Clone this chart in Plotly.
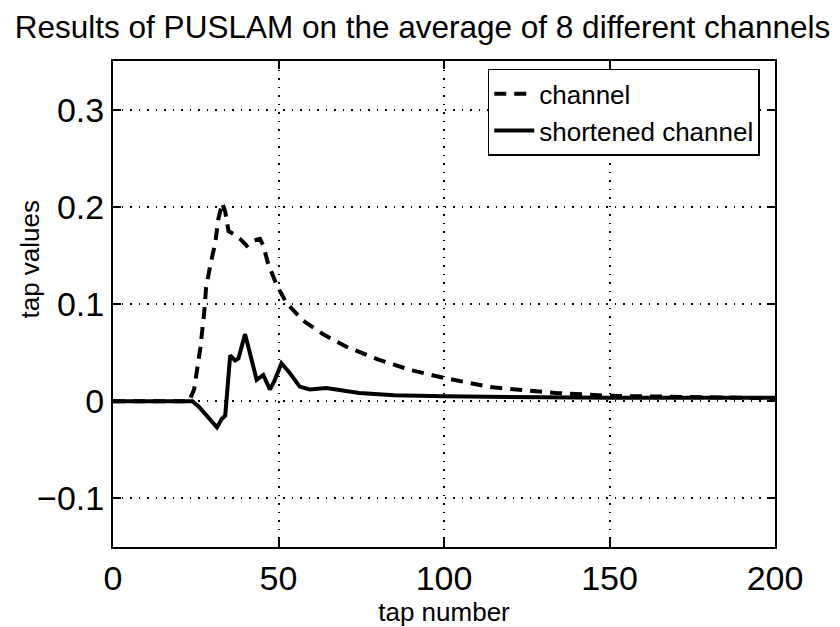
import plotly.graph_objects as go

# channel (dashed)
channel_x = [0, 23, 24.5, 26.4, 27.6, 28.1, 29.4, 30.9, 31.8, 33, 33.9, 34.9, 36.5, 38.4, 40.4,
             42, 44.4, 45.4, 46.9, 49.4, 52.4, 57.4, 63.4, 70.5, 80, 90, 100, 114, 125, 134,
             150, 175, 200]
channel_y = [0, 0, 0.012, 0.055, 0.093, 0.116, 0.14, 0.163, 0.187, 0.204, 0.195, 0.175, 0.172,
             0.167, 0.16, 0.165, 0.167, 0.16, 0.141, 0.12, 0.101, 0.083, 0.069, 0.056, 0.043,
             0.032, 0.024, 0.0145, 0.011, 0.0085, 0.0055, 0.0038, 0.003]

# shortened channel (solid)
short_x = [0, 24, 26, 28, 31.4, 32.9, 33.9, 35.4, 36.9, 37.9, 39.9, 41.4, 43.4, 45.4, 47.4,
           48.9, 50.9, 53.4, 56.4, 59.4, 64.4, 74.4, 85, 100, 125, 150, 175, 200]
short_y = [0, 0, -0.006, -0.014, -0.027, -0.018, -0.015, 0.047, 0.042, 0.044, 0.069, 0.049,
           0.022, 0.027, 0.012, 0.022, 0.039, 0.029, 0.015, 0.012, 0.0135, 0.0085, 0.006,
           0.005, 0.004, 0.0035, 0.0035, 0.0035]

x_ticks = [0, 50, 100, 150, 200]
y_ticks = [-0.1, 0, 0.1, 0.2, 0.3]
y_tick_labels = ["\u22120.1", "0", "0.1", "0.2", "0.3"]

FONT = "Liberation Sans, Arial, sans-serif"

fig = go.Figure()
fig.add_trace(go.Scatter(x=channel_x, y=channel_y, mode="lines", name="channel",
                         line=dict(color="black", width=4, dash="12px,8px")))
fig.add_trace(go.Scatter(x=short_x, y=short_y, mode="lines", name="shortened channel",
                         line=dict(color="black", width=4)))

axis_common = dict(showline=True, linecolor="black", linewidth=2, mirror="ticks",
                   ticks="inside", ticklen=8, tickcolor="black", tickwidth=1.5,
                   showgrid=True, gridcolor="black", gridwidth=1.5, griddash="1.5px,7px",
                   zeroline=False, tickfont=dict(family=FONT, size=34, color="black"))

fig.update_xaxes(range=[0, 200], tickvals=x_ticks, ticktext=[str(v) for v in x_ticks],
                 title=dict(text="tap number", font=dict(family=FONT, size=26, color="black"),
                            standoff=0),
                 **axis_common)
fig.update_yaxes(range=[-0.15, 0.35], tickvals=y_ticks, ticktext=y_tick_labels,
                 **axis_common)

fig.add_annotation(text="tap values", textangle=-90, showarrow=False,
                   xref="paper", yref="paper", x=-83 / 662, y=(553 - 262) / 492,
                   xanchor="center", yanchor="middle",
                   font=dict(family=FONT, size=26, color="black"))

fig.update_layout(
    width=840, height=627,
    margin=dict(l=113, r=65, t=61, b=74),
    paper_bgcolor="white", plot_bgcolor="white",
    title=dict(text="Results of PUSLAM on the average of 8 different channels",
               font=dict(family=FONT, size=31.5, color="black"),
               x=0.503, xref="container", xanchor="center",
               y=1 - 27 / 627, yref="container", yanchor="middle"),
    legend=dict(x=0.977, y=0.984, xanchor="right", yanchor="top",
                bgcolor="white", bordercolor="black", borderwidth=1.5,
                font=dict(family=FONT, size=26, color="black"),
                tracegroupgap=0, itemwidth=40),
    showlegend=True,
)

fig.write_html("out.html")
